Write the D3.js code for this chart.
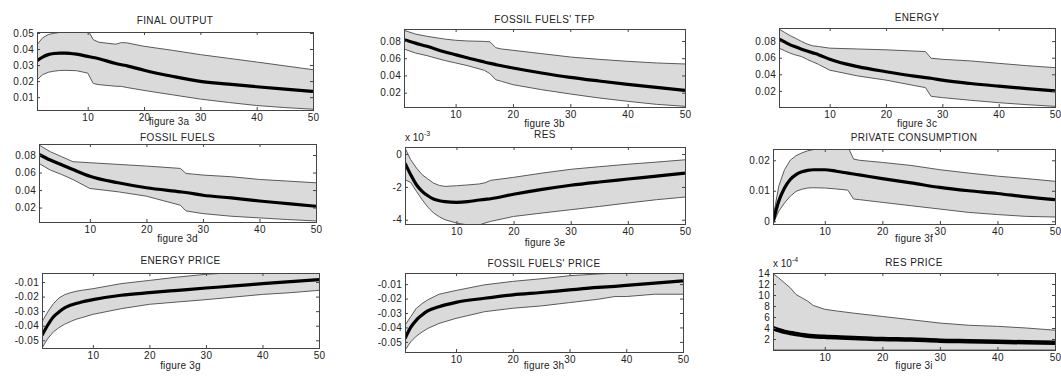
<!DOCTYPE html>
<html><head><meta charset="utf-8">
<script src="https://cdn.jsdelivr.net/npm/d3@7"></script>
<style>
body{margin:0;background:#fff}
text{font-family:"Liberation Sans",Arial,Helvetica,sans-serif;fill:#222}
</style>
</head><body>
<svg id="chart" width="1061" height="382"></svg>
<script>
// ---------------- DATA ----------------
const titles = ["FINAL OUTPUT","FOSSIL FUELS' TFP","ENERGY","FOSSIL FUELS","RES","PRIVATE CONSUMPTION","ENERGY PRICE","FOSSIL FUELS' PRICE","RES PRICE"];
const figureLabels = ["figure 3a","figure 3b","figure 3c","figure 3d","figure 3e","figure 3f","figure 3g","figure 3h","figure 3i"];
const xTicks = [10,20,30,40,50];
const xDomain = [1,50];

// (a) final output
const periodsOutput = [1,2,3,4,5,6,8,10,11,12,15,16,17,20,25,30,35,40,45,50];
const outputMean = [0.0327,0.0350,0.0365,0.0372,0.0375,0.0375,0.0368,0.0354,0.0347,0.0339,0.0310,0.0302,0.0295,0.0268,0.0230,0.0198,0.0181,0.0165,0.0150,0.0136];
const outputHigh = [0.0427,0.0470,0.0490,0.0498,0.0503,0.0510,0.0520,0.0520,0.0458,0.0442,0.0430,0.0440,0.0438,0.0417,0.0392,0.0365,0.0342,0.0319,0.0295,0.0271];
const outputLow  = [0.0208,0.0240,0.0255,0.0262,0.0266,0.0267,0.0265,0.0250,0.0185,0.0178,0.0168,0.0167,0.0160,0.0142,0.0115,0.0088,0.0067,0.0048,0.0035,0.0025];
const outputYDomain = [0.002,0.0506];
const outputYTicks = [0.01,0.02,0.03,0.04,0.05];

// (b) fossil fuels' TFP
const periodsTfp = [1,3,5,8,10,12,15,16,17,18,20,25,30,35,40,45,50];
const tfpMean = [0.0815,0.0775,0.0738,0.0676,0.0640,0.0605,0.0556,0.0540,0.0526,0.0512,0.0487,0.0429,0.0378,0.0336,0.0297,0.0262,0.0227];
const tfpHigh = [0.0924,0.0880,0.0854,0.0823,0.0808,0.0800,0.0795,0.0790,0.0722,0.0707,0.0692,0.0653,0.0614,0.0587,0.0564,0.0545,0.0533];
const tfpLow  = [0.0707,0.0660,0.0630,0.0575,0.0545,0.0515,0.0460,0.0420,0.0350,0.0332,0.0293,0.0235,0.0185,0.0139,0.0100,0.0065,0.0042];
const tfpYDomain = [0.0034,0.0939];
const tfpYTicks = [0.02,0.04,0.06,0.08];

// (c) energy
const periodsEnergy = [1,2,3,4,5,6,7,8,10,15,20,25,27,28,30,35,40,45,50];
const energyMean = [0.0824,0.0790,0.0755,0.0728,0.0703,0.0680,0.0658,0.0637,0.0581,0.0492,0.0431,0.0378,0.0360,0.0352,0.0330,0.0289,0.0257,0.0228,0.0200];
const energyHigh = [0.0946,0.0905,0.0865,0.0832,0.0796,0.0764,0.0743,0.0735,0.0715,0.0705,0.0695,0.0680,0.0674,0.0593,0.0581,0.0561,0.0532,0.0504,0.0480];
const energyLow  = [0.0715,0.0685,0.0654,0.0632,0.0614,0.0580,0.0550,0.0520,0.0450,0.0380,0.0330,0.0265,0.0240,0.0135,0.0119,0.0087,0.0058,0.0034,0.0014];
const energyYDomain = [0.0006,0.0958];
const energyYTicks = [0.02,0.04,0.06,0.08];

// (d) fossil fuels
const periodsFossil = [1,3,5,7,10,15,20,26,27,30,35,40,45,50];
const fossilMean = [0.0808,0.0743,0.0690,0.0635,0.0558,0.0483,0.0426,0.0380,0.0372,0.0341,0.0310,0.0275,0.0245,0.0215];
const fossilHigh = [0.0915,0.0838,0.0781,0.0724,0.0712,0.0693,0.0674,0.0647,0.0590,0.0571,0.0552,0.0521,0.0502,0.0483];
const fossilLow  = [0.0704,0.0628,0.0578,0.0520,0.0418,0.0380,0.0330,0.0227,0.0162,0.0131,0.0101,0.0082,0.0063,0.0047];
const fossilYDomain = [0.0035,0.0926];
const fossilYTicks = [0.02,0.04,0.06,0.08];

// (e) RES, in units of 1e-3
const periodsRes = [1,2,3,4,5,6,7,8,10,12,14,15,16,20,25,30,35,40,45,50];
const resMean = [-0.55,-1.26,-1.87,-2.27,-2.54,-2.74,-2.84,-2.90,-2.94,-2.90,-2.80,-2.76,-2.72,-2.45,-2.15,-1.90,-1.70,-1.52,-1.34,-1.16];
const resHigh = [0.37,-0.35,-0.85,-1.26,-1.52,-1.77,-1.91,-1.97,-1.93,-1.88,-1.82,-1.75,-1.60,-1.42,-1.16,-0.93,-0.77,-0.62,-0.49,-0.35];
const resLow  = [-1.56,-1.73,-2.27,-2.78,-3.23,-3.59,-3.82,-4.00,-4.20,-4.32,-4.32,-4.20,-4.10,-3.80,-3.59,-3.39,-3.19,-2.98,-2.78,-2.62];
const resYDomain = [-4.26,0.43];
const resYTicks = [-4,-2,0];
const resExponent = "-3";

// (f) private consumption
const periodsCons = [1,2,3,4,5,6,7,8,10,12,14,15,16,20,25,30,35,40,45,50];
const consMean = [-0.0003,0.0066,0.0109,0.0137,0.0153,0.0162,0.0167,0.0169,0.0169,0.0164,0.0158,0.0155,0.0152,0.0140,0.0126,0.0111,0.0100,0.0091,0.0080,0.0071];
const consHigh = [0.0011,0.0115,0.0169,0.0200,0.0215,0.0224,0.0231,0.0235,0.0245,0.0245,0.0245,0.0204,0.0200,0.0193,0.0183,0.0169,0.0158,0.0148,0.0140,0.0131];
const consLow  = [-0.0008,0.0033,0.0060,0.0082,0.0098,0.0105,0.0109,0.0110,0.0109,0.0106,0.0102,0.0073,0.0071,0.0062,0.0051,0.0040,0.0029,0.0022,0.0016,0.0014];
const consYDomain = [-0.0009,0.0237];
const consYTicks = [0,0.01,0.02];

// (g) energy price
const periodsEp = [1,2,3,4,5,6,7,8,10,15,20,25,30,35,40,45,50];
const epMean = [-0.0466,-0.0397,-0.0340,-0.0306,-0.0278,-0.0260,-0.0248,-0.0237,-0.0221,-0.0191,-0.0173,-0.0157,-0.0141,-0.0127,-0.0111,-0.0097,-0.0084];
const epHigh = [-0.0374,-0.0306,-0.0249,-0.0210,-0.0187,-0.0174,-0.0164,-0.0157,-0.0146,-0.0111,-0.0089,-0.0066,-0.0047,-0.0035,-0.0030,-0.0025,-0.0020];
const epLow  = [-0.0553,-0.0489,-0.0443,-0.0413,-0.0390,-0.0372,-0.0356,-0.0345,-0.0322,-0.0283,-0.0253,-0.0237,-0.0221,-0.0203,-0.0185,-0.0173,-0.0157];
const epYDomain = [-0.0553,-0.0038];
const epYTicks = [-0.05,-0.04,-0.03,-0.02,-0.01];

// (h) fossil fuels' price
const periodsFp = [1,2,3,4,5,7,10,15,20,25,30,35,38,40,45,50];
const fpMean = [-0.0477,-0.0400,-0.0349,-0.0314,-0.0286,-0.0256,-0.0226,-0.0198,-0.0174,-0.0158,-0.0140,-0.0123,-0.0115,-0.0109,-0.0093,-0.0077];
const fpHigh = [-0.0384,-0.0326,-0.0267,-0.0235,-0.0209,-0.0170,-0.0144,-0.0105,-0.0081,-0.0063,-0.0042,-0.0030,-0.0024,-0.0022,-0.0018,-0.0014];
const fpLow  = [-0.0558,-0.0500,-0.0460,-0.0432,-0.0407,-0.0372,-0.0337,-0.0291,-0.0267,-0.0251,-0.0228,-0.0205,-0.0186,-0.0186,-0.0170,-0.0170];
const fpYDomain = [-0.057,-0.0023];
const fpYTicks = [-0.05,-0.04,-0.03,-0.02,-0.01];

// (i) RES price, in units of 1e-4
const periodsRp = [1,2,3,4,5,6,7,8,10,12,15,20,25,30,35,40,45,50];
const rpMean = [4.0,3.6,3.3,3.1,2.9,2.75,2.6,2.5,2.4,2.3,2.2,2.0,1.9,1.7,1.6,1.5,1.4,1.3];
const rpHigh = [13.9,13.1,12.2,11.3,10.1,9.5,8.9,8.1,7.4,7.1,6.7,6.1,5.5,4.9,4.5,4.3,4.0,3.6];
const rpLow  = [0,0,0,0,0,0,0,0,0,0,0,0,0,0,0,0,0,0];
const rpYDomain = [0,14];
const rpYTicks = [2,4,6,8,10,12,14];
const rpExponent = "-4";

// ---------------- LAYOUT ----------------
const boxes = [
  [37,32,313,110],[404,29,685,107],[779,28,1055,107],
  [39,144,316,222],[405,147,685,224],[773,149,1055,224],
  [42,273,319,348],[405,273,683,352],[773,273,1055,350]
];
const titleBase = [24,23,21,141,138,141,264,267,266];
const figBase = [125,127,127,242,246,242,369,369,369];

const panels = [
  {x:periodsOutput, m:outputMean, hi:outputHigh, lo:outputLow, dom:outputYDomain, ticks:outputYTicks},
  {x:periodsTfp, m:tfpMean, hi:tfpHigh, lo:tfpLow, dom:tfpYDomain, ticks:tfpYTicks},
  {x:periodsEnergy, m:energyMean, hi:energyHigh, lo:energyLow, dom:energyYDomain, ticks:energyYTicks},
  {x:periodsFossil, m:fossilMean, hi:fossilHigh, lo:fossilLow, dom:fossilYDomain, ticks:fossilYTicks},
  {x:periodsRes, m:resMean, hi:resHigh, lo:resLow, dom:resYDomain, ticks:resYTicks, exp:resExponent},
  {x:periodsCons, m:consMean, hi:consHigh, lo:consLow, dom:consYDomain, ticks:consYTicks},
  {x:periodsEp, m:epMean, hi:epHigh, lo:epLow, dom:epYDomain, ticks:epYTicks},
  {x:periodsFp, m:fpMean, hi:fpHigh, lo:fpLow, dom:fpYDomain, ticks:fpYTicks},
  {x:periodsRp, m:rpMean, hi:rpHigh, lo:rpLow, dom:rpYDomain, ticks:rpYTicks, exp:rpExponent, thick:true}
];

const svg = d3.select("#chart");
const fmt = d => String(+(+d).toFixed(6));

panels.forEach((p, i) => {
  const [x0,y0,x1,y1] = boxes[i];
  const x = d3.scaleLinear().domain(xDomain).range([x0,x1]);
  const y = d3.scaleLinear().domain(p.dom).range([y1,y0]);
  const rows = p.x.map((t,k) => ({t, m:p.m[k], hi:p.hi[k], lo:p.lo[k]}));
  const g = svg.append("g");

  const cid = "clip" + i;
  svg.append("clipPath").attr("id", cid).append("rect")
    .attr("x", x0).attr("y", y0).attr("width", x1-x0).attr("height", y1-y0);
  const plot = g.append("g").attr("clip-path", `url(#${cid})`);

  plot.append("path").datum(rows)
    .attr("d", d3.area().x(d=>x(d.t)).y0(d=>y(d.lo)).y1(d=>y(d.hi)))
    .attr("fill", "#dadada");
  ["lo","hi"].forEach(k => {
    plot.append("path").datum(rows)
      .attr("d", d3.line().x(d=>x(d.t)).y(d=>y(d[k])))
      .attr("fill","none").attr("stroke","#5a5a5a").attr("stroke-width",1);
  });
  plot.append("path").datum(rows)
    .attr("d", d3.line().curve(d3.curveMonotoneX).x(d=>x(d.t)).y(d=>y(d.m)))
    .attr("fill","none").attr("stroke","#000").attr("stroke-width", p.thick ? 4.5 : 3.2)
    .attr("stroke-linejoin","round");

  g.append("rect").attr("x",x0).attr("y",y0).attr("width",x1-x0).attr("height",y1-y0)
    .attr("fill","none").attr("stroke","#444").attr("stroke-width",1).attr("shape-rendering","crispEdges");

  const styleAxis = sel => {
    sel.select(".domain").remove();
    sel.selectAll("line").attr("stroke","#444");
    sel.selectAll("text").attr("font-size",10).attr("fill","#222").attr("letter-spacing","0.3px");
  };
  g.append("g").attr("transform",`translate(0,${y1})`)
    .call(d3.axisBottom(x).tickValues(xTicks).tickSize(-3).tickPadding(4).tickFormat(d3.format("d"))).call(styleAxis);
  g.append("g").attr("transform",`translate(0,${y0})`)
    .call(d3.axisTop(x).tickValues(xTicks).tickSize(-3).tickFormat("")).call(styleAxis);
  g.append("g").attr("transform",`translate(${x0},0)`)
    .call(d3.axisLeft(y).tickValues(p.ticks).tickSize(-3).tickPadding(3).tickFormat(fmt)).call(styleAxis);
  g.append("g").attr("transform",`translate(${x1},0)`)
    .call(d3.axisRight(y).tickValues(p.ticks).tickSize(-3).tickFormat("")).call(styleAxis);

  g.append("text").attr("x",(x0+x1)/2).attr("y",titleBase[i]).attr("text-anchor","middle")
    .attr("font-size",10).attr("letter-spacing","0.4px").text(titles[i]);
  g.append("text").attr("x",(x0+x1)/2 - (i===0?6:0)).attr("y",figBase[i]).attr("text-anchor","middle")
    .attr("font-size",10).attr("letter-spacing","0.2px").text(figureLabels[i]);

  if (p.exp) {
    const t = g.append("text").attr("x",x0).attr("y",y0-6).attr("font-size",10);
    t.append("tspan").text("x 10");
    t.append("tspan").attr("dy",-5).attr("font-size",7).text(p.exp);
  }
});
</script>
</body></html>
